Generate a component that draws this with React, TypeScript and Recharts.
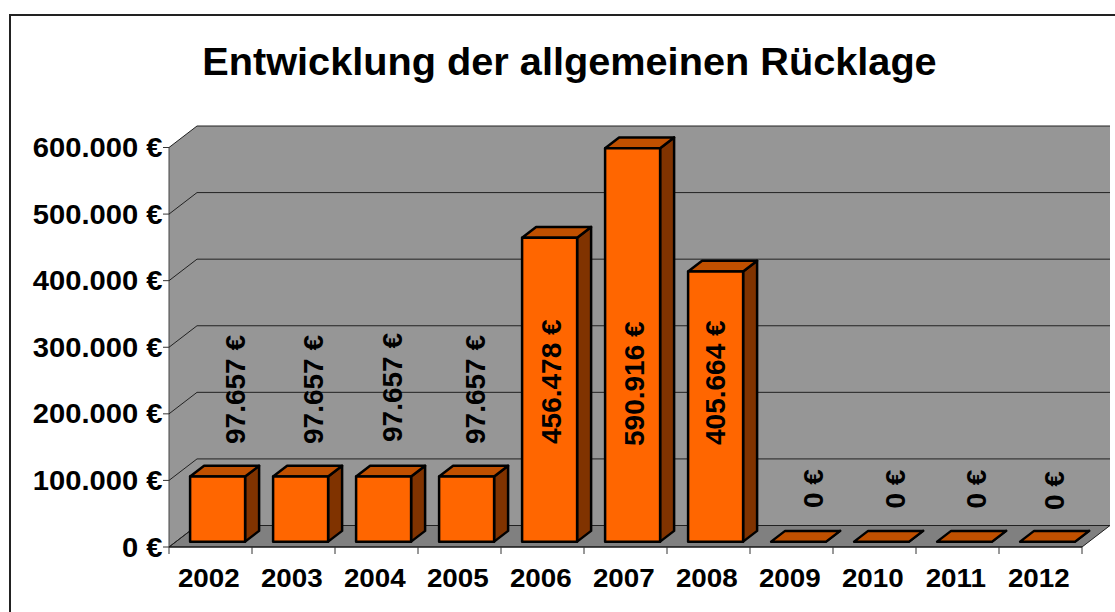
import React from "react";
import { BarChart, Bar, XAxis, YAxis, CartesianGrid, LabelList } from "recharts";

const years = ["2002","2003","2004","2005","2006","2007","2008","2009","2010","2011","2012"];
const reserve = [97657,97657,97657,97657,456478,590916,405664,0,0,0,0];
const yTicks = [0,100000,200000,300000,400000,500000,600000];
const rows = years.map((year,i)=>({year,reserve:reserve[i]}));

const W=1115,H=612;
const L=169,R=1082,T=147.5,B=547;
const DX=28,DY=21.5;
const BAND=(R-L)/years.length;
const FONT="'Liberation Sans', Arial, sans-serif";
const euro=(v:number)=>v.toString().replace(/\B(?=(\d{3})+(?!\d))/g,".")+" €";

const labelShiftX=[27.5,22,18.5,18.5,11.2,11.5,9.2,24.5,23.5,21.2,16.5];
const labelBaseY=[444,444,442,444,444,446,445,508,508.5,508.5,510];

function GridLine(p:any){
  const {x1,x2,y1,index}=p;
  return <g key={index}>
    {index===0&&<>
      <polygon points={`${L},${T} ${L+DX},${T-DY} ${R+DX},${T-DY} ${R+DX},${B-DY} ${R},${B} ${L},${B}`} fill="#969696"/>
      <polygon points={`${L},${B} ${L+DX},${B-DY} ${R+DX},${B-DY} ${R},${B}`} fill="#808080" stroke="#222" strokeWidth={1}/>
      <line x1={L} x2={L} y1={T} y2={B} stroke="#444" strokeWidth={1}/>
    </>}
    <polyline points={`${x1},${y1} ${x1+DX},${y1-DY} ${x2+DX},${y1-DY}`} fill="none" stroke="#222" strokeWidth={1}/>
  </g>;
}

function Box(p:any){
  const {x,y,width,height}=p;
  const ox=DX/4, oy=DY/4, dx=DX/2, dy=DY/2;
  const l=x+ox, r=x+width+ox, t=y-oy, b=y+height-oy;
  const common={stroke:"#000",strokeWidth:2.5,strokeLinejoin:"round" as const};
  return <g>
    <polygon points={`${r},${t} ${r+dx},${t-dy} ${r+dx},${b-dy} ${r},${b}`} fill="#803300" {...common}/>
    <polygon points={`${l},${t} ${l+dx},${t-dy} ${r+dx},${t-dy} ${r},${t}`} fill="#C05000" {...common}/>
    <rect x={l} y={t} width={width} height={Math.max(b-t,0)} fill="#FF6600" {...common}/>
  </g>;
}

function XTick(p:any){
  const {x,index,payload}=p;
  const left=x-BAND/2;
  return <g>
    <line x1={left} x2={left} y1={B} y2={B+7} stroke="#333"/>
    {index===years.length-1&&<line x1={left+BAND} x2={left+BAND} y1={B} y2={B+7} stroke="#333"/>}
    <text transform={`translate(${x-1.7},${B+40}) scale(1.07,1)`} textAnchor="middle" fontFamily={FONT} fontWeight="bold" fontSize={26} fill="#000">{payload.value}</text>
  </g>;
}

function YTick(p:any){
  const {y,payload}=p;
  return <g>
    <line x1={L-6} x2={L} y1={y} y2={y} stroke="#333"/>
    <text transform={`translate(${L-6.5},${y+9.5}) scale(1.08,1)`} textAnchor="end" fontFamily={FONT} fontWeight="bold" fontSize={27} fill="#000">{euro(payload.value)}</text>
  </g>;
}

function BarLabel(p:any){
  const {x,width,value,index}=p;
  const bx=x+width/2+DX/4+labelShiftX[index];
  return <text transform={`translate(${bx},${labelBaseY[index]}) rotate(-90)`} fontFamily={FONT} fontWeight="bold" fontSize={28} fill="#000">{euro(value)}</text>;
}

export default function App(){
  return <div style={{position:"fixed",left:0,top:0,width:W,height:H,background:"#fff",overflow:"hidden"}}>
    <div style={{position:"absolute",left:9,top:14,width:W,height:H,borderLeft:"2px solid #222",borderTop:"2px solid #222"}}/>
    <div style={{position:"absolute",left:0,top:0}}>
    <BarChart width={W} height={H} data={rows} barCategoryGap={(BAND-54.8)/2} margin={{top:T,right:W-R,bottom:0,left:0}}>
      <text x={569.5} y={75} textAnchor="middle" fontFamily={FONT} fontWeight="bold" fontSize={39.7} fill="#000">Entwicklung der allgemeinen Rücklage</text>
      <CartesianGrid vertical={false} horizontal={(props:any)=><GridLine {...props}/>}/>
      <XAxis dataKey="year" axisLine={{stroke:"#111"}} tickLine={false} tick={(props:any)=><XTick {...props}/>} interval={0} height={H-B}/>
      <YAxis domain={[0,600000]} ticks={yTicks} axisLine={false} tickLine={false} tick={(props:any)=><YTick {...props}/>} width={L}/>
      <Bar dataKey="reserve" isAnimationActive={false} shape={(props:any)=><Box {...props}/>}>
        <LabelList dataKey="reserve" content={(props:any)=><BarLabel {...props}/>}/>
      </Bar>
    </BarChart>
    </div>
  </div>;
}
